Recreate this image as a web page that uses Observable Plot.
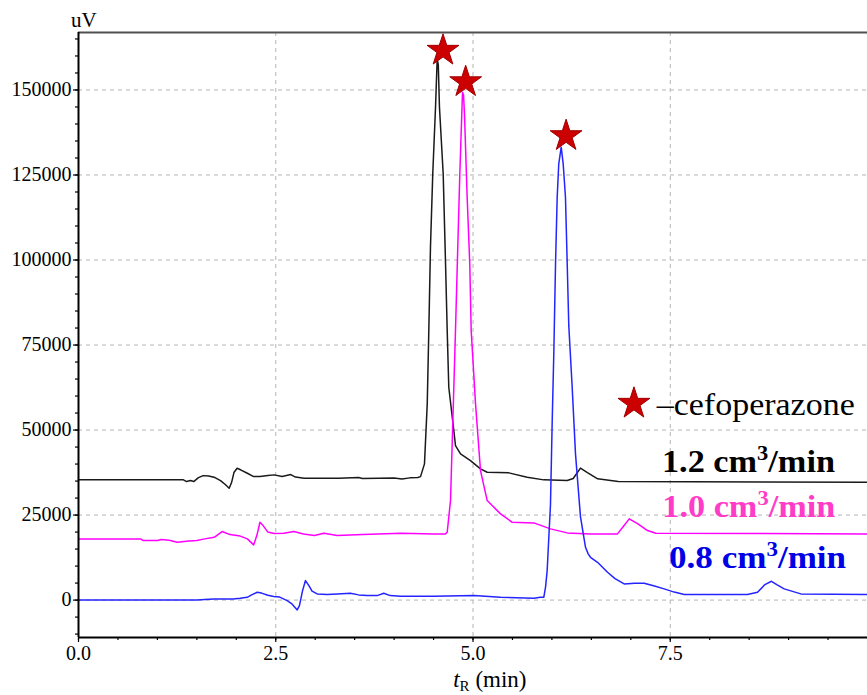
<!DOCTYPE html>
<html>
<head>
<meta charset="utf-8">
<script src="https://cdn.jsdelivr.net/npm/d3@7"></script>
<script src="https://cdn.jsdelivr.net/npm/@observablehq/plot@0.6"></script>
<style>
  body { margin: 0; background: #fff; }
  #chart svg { display: block; }
</style>
</head>
<body>
<div id="chart"></div>
<script>
// ---------- data (retention time in min, signal in uV) ----------
const t12 = [
  0, 1.33, 1.37, 1.42, 1.46, 1.52, 1.58, 1.65, 1.73, 1.80,
  1.86, 1.91, 1.94, 1.97, 2.01, 2.06, 2.14, 2.22, 2.30, 2.40,
  2.48, 2.58, 2.69, 2.75, 2.86, 3.30, 3.55, 3.60, 4.00, 4.10,
  4.20, 4.30, 4.335, 4.385, 4.42, 4.44, 4.461, 4.49, 4.525, 4.546,
  4.56, 4.575, 4.622, 4.651, 4.673, 4.693, 4.757, 4.778, 4.842, 4.968,
  5.095, 5.18, 5.454, 5.687, 5.897, 6.194, 6.27, 6.362, 6.45, 6.58,
  6.84, 10.0
];
const v12 = [
  35350, 35350, 34850, 35150, 34850, 36000, 36600, 36470, 36030, 35150,
  34000, 32880, 34560, 37500, 38760, 38240, 37290, 36320, 36320, 36620,
  36820, 36320, 36910, 36180, 35820, 35820, 36030, 35740, 35880, 35590,
  35940, 36030, 36300, 40060, 57700, 79260, 103760, 125350, 144940, 159000,
  157500, 144940, 125440, 99850, 79260, 62590, 49850, 45440, 43000, 41030,
  38590, 37590, 37410, 36120, 35350, 35150, 35740, 38820, 37500, 35650,
  34850, 34650
];

const t10 = [
  0, 0.79, 0.82, 1.00, 1.05, 1.15, 1.25, 1.40, 1.50, 1.60,
  1.72, 1.82, 1.92, 2.05, 2.14, 2.22, 2.26, 2.30, 2.34, 2.40,
  2.48, 2.60, 2.73, 2.85, 2.99, 3.11, 3.28, 3.60, 4.09, 4.50,
  4.651, 4.673, 4.715, 4.757, 4.778, 4.807, 4.833, 4.858, 4.867, 4.88,
  4.892, 4.926, 4.959, 4.977, 5.032, 5.095, 5.18, 5.349, 5.497, 5.771,
  5.982, 6.194, 6.489, 6.831, 6.90, 6.98, 7.085, 7.212, 7.317, 10.0
];
const v10 = [
  18000, 18000, 17500, 17500, 17800, 17600, 17000, 17350, 17500, 18000,
  18470, 20150, 19260, 18820, 18000, 16240, 18970, 22880, 21910, 20000,
  19560, 19650, 20150, 19410, 18970, 19650, 18970, 19260, 19650, 19470,
  19470, 19940, 29260, 62590, 79260, 103760, 125350, 143000, 149350, 148500,
  143000, 118470, 98880, 79260, 57700, 38090, 29260, 25350, 22880, 22700,
  20940, 19760, 19470, 19470, 21500, 23880, 22500, 20440, 19650, 19470
];

const t08 = [
  0, 1.50, 1.60, 1.715, 1.96, 2.05, 2.138, 2.20, 2.265, 2.32,
  2.40, 2.475, 2.55, 2.645, 2.70, 2.772, 2.80, 2.84, 2.877, 2.92,
  2.96, 3.025, 3.15, 3.279, 3.447, 3.55, 3.659, 3.786, 3.869, 3.95,
  4.081, 4.503, 5.010, 5.349, 5.771, 5.856, 5.897, 5.919, 5.940, 5.961,
  5.982, 6.004, 6.024, 6.046, 6.067, 6.087, 6.118, 6.143, 6.172, 6.194,
  6.214, 6.257, 6.299, 6.362, 6.426, 6.46, 6.489, 6.578, 6.705, 6.80,
  6.916, 7.05, 7.17, 7.30, 7.423, 7.55, 7.677, 8.479, 8.606, 8.70,
  8.783, 8.85, 8.944, 9.155, 10.0
];
const v08 = [
  0, 0, 150, 350, 290, 530, 820, 1620, 2290, 2060,
  1410, 1030, 880, -150, -1030, -2880, -1620, 2790, 5740, 4260,
  2650, 1820, 1620, 1820, 2000, 1530, 1320, 1320, 2000, 1320,
  1120, 1120, 1320, 820, 530, 820, 820, 3760, 8680, 18470,
  28000, 52790, 72410, 98880, 118470, 128290, 133180, 128290, 118470, 98880,
  80700, 62590, 43000, 24560, 15530, 13590, 12590, 11120, 8180, 6320,
  4760, 4940, 4940, 4120, 3290, 2350, 1620, 1620, 2290, 4560,
  5530, 4560, 3290, 1820, 1620
];

// cefoperazone peak markers
const starT = [4.62, 4.907, 6.18];
const starV = [161600, 152350, 136500];

// legend / series labels
const seriesNames = ["1.2", "1.0", "0.8"];
const legendStarT = [7.04];
const legendStarV = [57800];
const compoundName = "cefoperazone";

// axis ticks
const xTicks = [0, 2.5, 5.0, 7.5];
const yTicks = [0, 25000, 50000, 75000, 100000, 125000, 150000];
const xDomain = [0, 10];
const yDomain = [-11000, 166900];

// ---------- build ----------
const toRows = (ts, vs) => ts.map((t, i) => ({t, v: vs[i]}));
const rows12 = toRows(t12, v12);
const rows10 = toRows(t10, v10);
const rows08 = toRows(t08, v08);
const stars = starT.map((t, i) => ({t, v: starV[i]}));
const legendStar = legendStarT.map((t, i) => ({t, v: legendStarV[i]}));

const colors = {"1.2": "#1a1a1a", "1.0": "#ff00ff", "0.8": "#2424ff"};
const labelColors = {"1.2": "#000000", "1.0": "#ff3cc8", "0.8": "#0000e6"};
const gridStyle = {stroke: "#b4b4b4", strokeOpacity: 1, strokeDasharray: "4,4", strokeWidth: 1};
const starStyle = {x: "t", y: "v", symbol: "star", r: 10, fill: "#cc0000", stroke: "#a00000", strokeWidth: 1};

const chart = Plot.plot({
  width: 867,
  height: 695,
  marginLeft: 78,
  marginRight: 0,
  marginTop: 32,
  marginBottom: 58,
  style: {fontFamily: "'Liberation Serif', 'Times New Roman', serif", fontSize: "20px", background: "#fff", color: "#000", overflow: "visible"},
  x: {domain: xDomain, label: null},
  y: {domain: yDomain, label: null},
  marks: [
    Plot.gridY({ticks: yTicks, ...gridStyle}),
    Plot.gridX({ticks: xTicks.filter(d => d > 0), ...gridStyle}),
    Plot.line(rows12, {x: "t", y: "v", stroke: colors["1.2"], strokeWidth: 1.5}),
    Plot.line(rows10, {x: "t", y: "v", stroke: colors["1.0"], strokeWidth: 1.5}),
    Plot.line(rows08, {x: "t", y: "v", stroke: colors["0.8"], strokeWidth: 1.5}),
    Plot.ruleY([yDomain[1]], {stroke: "#505050", strokeWidth: 2}),
    Plot.ruleY([yDomain[0]], {stroke: "#000", strokeWidth: 2}),
    Plot.ruleX([xDomain[0]], {stroke: "#000", strokeWidth: 2}),
    Plot.axisY({ticks: d3.range(-10000, 166000, 5000), tickSize: 3, tickFormat: () => "", label: null, strokeWidth: 1.2}),
    Plot.axisY({ticks: yTicks, tickSize: 5, tickPadding: 2, tickFormat: d3.format("d"), label: null, fontSize: 20, strokeWidth: 1.2}),
    Plot.axisX({ticks: d3.range(0, 10, 0.5), tickSize: 3, tickFormat: () => "", label: null, strokeWidth: 1.2}),
    Plot.axisX({ticks: xTicks, tickSize: 5, tickPadding: 3, tickFormat: d3.format(".1f"), label: null, fontSize: 20, strokeWidth: 1.2}),
    Plot.dot(stars, starStyle),
    Plot.dot(legendStar, starStyle)
  ]
});

document.getElementById("chart").appendChild(chart);

// ---------- text annotations via the plot's own scales ----------
const sx = chart.scale("x"), sy = chart.scale("y");
const svg = d3.select(chart);

// y unit
svg.append("text")
  .attr("x", sx.apply(0) - 7).attr("y", 27)
  .attr("text-anchor", "start")
  .attr("font-size", 21).attr("fill", "#000")
  .text("uV");

// x axis title: t_R (min)
const xt = svg.append("text")
  .attr("x", sx.apply(5.22)).attr("y", 687)
  .attr("text-anchor", "middle").attr("font-size", 23).attr("fill", "#000");
xt.append("tspan").attr("font-style", "italic").text("t");
xt.append("tspan").attr("font-size", 15).attr("dy", 4).text("R");
xt.append("tspan").attr("dy", -4).text(" (min)");

// compound legend
svg.append("text")
  .attr("x", sx.apply(7.335)).attr("y", sy.apply(54260))
  .attr("text-anchor", "start")
  .attr("font-size", 32).attr("fill", "#000")
  .attr("textLength", 198).attr("lengthAdjust", "spacingAndGlyphs")
  .text("\u2013" + compoundName);

// flow-rate labels
const labelLayout = {
  "1.2": {t: 9.594, v: 37590, len: 173},
  "1.0": {t: 9.598, v: 24350, len: 173},
  "0.8": {t: 9.735, v: 9180, len: 177}
};
for (const name of seriesNames) {
  const L = labelLayout[name];
  const tx = svg.append("text")
    .attr("x", sx.apply(L.t)).attr("y", sy.apply(L.v))
    .attr("text-anchor", "end")
    .attr("font-size", 32).attr("font-weight", "bold")
    .attr("fill", labelColors[name])
    .attr("textLength", L.len).attr("lengthAdjust", "spacingAndGlyphs");
  tx.append("tspan").text(name + " cm");
  tx.append("tspan").attr("font-size", 21).attr("dy", -12).text("3");
  tx.append("tspan").attr("dy", 12).text("/min");
}
</script>
</body>
</html>
